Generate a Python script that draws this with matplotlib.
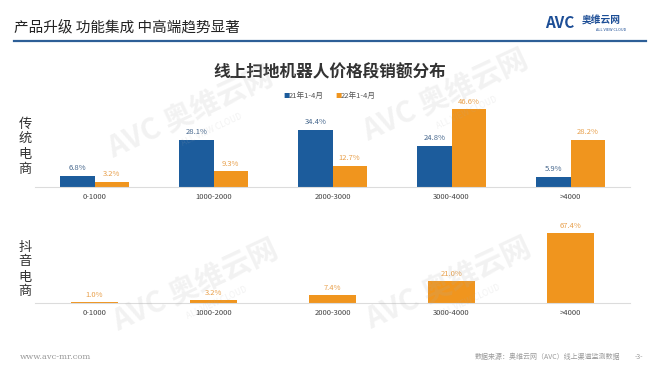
import numpy as np
import matplotlib
matplotlib.use("Agg")
import matplotlib.pyplot as plt

plt.rcParams['font.family'] = ['Noto Sans CJK SC', 'DejaVu Sans']

categories = ["0-1000", "1000-2000", "2000-3000", "3000-4000", ">4000"]
trad_21 = [6.8, 28.1, 34.4, 24.8, 5.9]
trad_22 = [3.2, 9.3, 12.7, 46.6, 28.2]
douyin_22 = [1.0, 3.2, 7.4, 21.0, 67.4]
series_names = ["21年1-4月", "22年1-4月"]

BLUE = "#1c5c9c"
ORANGE = "#f0951e"
BLUE_TXT = "#45668c"
ORANGE_TXT = "#e8a04c"
AXIS = "#dcdcdc"

W, H = 660, 372
fig = plt.figure(figsize=(6.6, 3.72), dpi=100)

def box(x0, y_top, x1, y_bottom):
    # pixel box -> figure coords
    return [x0 / W, 1 - y_bottom / H, (x1 - x0) / W, (y_bottom - y_top) / H]

# header
fig.text(14 / W, 1 - 28 / H, "产品升级 功能集成 中高端趋势显著", fontsize=10.5,
         color="#222222", va="center", ha="left")
fig.add_artist(plt.Line2D([14 / W, 646 / W], [1 - 41 / H, 1 - 41 / H],
                          color="#2d5f97", lw=1.6))
fig.text(545 / W, 1 - 23 / H, "AVC", fontsize=11, color="#1d4e96", fontweight="bold",
         style="italic", va="center", ha="left")
fig.text(582 / W, 1 - 21 / H, "奥维云网", fontsize=7, color="#1d4e96",
         fontweight="bold", va="center", ha="left")
fig.text(611 / W, 1 - 30 / H, "ALL VIEW CLOUD", fontsize=2.8, color="#1d4e96",
         va="center", ha="center")

# chart title and legend
fig.text(330 / W, 1 - 72 / H, "线上扫地机器人价格段销额分布", fontsize=12,
         fontweight="bold", color="#333333", ha="center", va="center")
fig.text(283 / W, 1 - 96 / H, "■", fontsize=4.5, color=BLUE, va="center")
fig.text(289 / W, 1 - 96 / H, series_names[0], fontsize=5.5, color="#555555", va="center")
fig.text(335 / W, 1 - 96 / H, "■", fontsize=4.5, color=ORANGE, va="center")
fig.text(341 / W, 1 - 96 / H, series_names[1], fontsize=5.5, color="#555555", va="center")

# watermarks (faint)
for (wx, wy) in [(190, 112), (445, 95), (195, 285), (448, 283)]:
    fig.text(wx / W, 1 - wy / H, "AVC 奥维云网", fontsize=21, fontweight="bold",
             color="#b0b0b0", alpha=0.16, rotation=25, ha="center", va="center",
             zorder=5)
    fig.text((wx + 22) / W, 1 - (wy + 18) / H, "ALL VIEW CLOUD", fontsize=6,
             color="#b0b0b0", alpha=0.16, rotation=25, ha="center", va="center",
             zorder=5)

x = np.arange(len(categories))

def style_axis(ax, ymax):
    ax.set_xlim(-0.5, 4.5)
    ax.set_ylim(0, ymax)
    ax.patch.set_alpha(0)
    for s in ["top", "right", "left"]:
        ax.spines[s].set_visible(False)
    ax.spines["bottom"].set_color(AXIS)
    ax.spines["bottom"].set_linewidth(0.8)
    ax.set_yticks([])
    ax.set_xticks(x)
    ax.set_xticklabels(categories, fontsize=5.5, color="#444444")
    ax.tick_params(axis="x", length=0, pad=4)

# top panel: traditional e-commerce
ax1 = fig.add_axes(box(35, 100, 630, 187))
bw = 0.286
ax1.bar(x - bw / 2, trad_21, bw, color=BLUE)
ax1.bar(x + bw / 2, trad_22, bw, color=ORANGE)
style_axis(ax1, 87 / 1.67)
for xi, v in zip(x, trad_21):
    ax1.text(xi - bw / 2, v + 2.2, f"{v:.1f}%", ha="center", va="bottom",
             fontsize=5.5, color=BLUE_TXT)
for xi, v in zip(x, trad_22):
    ax1.text(xi + bw / 2, v + 2.2, f"{v:.1f}%", ha="center", va="bottom",
             fontsize=5.5, color=ORANGE_TXT)

# bottom panel: Douyin e-commerce
ax2 = fig.add_axes(box(35, 225, 630, 303))
bw2 = 0.39
ax2.bar(x, douyin_22, bw2, color=ORANGE)
style_axis(ax2, 78 / 1.04)
for xi, v in zip(x, douyin_22):
    ax2.text(xi, v + 3.0, f"{v:.1f}%", ha="center", va="bottom",
             fontsize=5.5, color=ORANGE_TXT)

# side labels
for i, ch in enumerate("传统电商"):
    fig.text(25 / W, 1 - (124 + i * 15) / H, ch, fontsize=9.5, color="#333333",
             ha="center", va="center")
for i, ch in enumerate("抖音电商"):
    fig.text(25 / W, 1 - (247 + i * 15) / H, ch, fontsize=9.5, color="#333333",
             ha="center", va="center")

# footer
fig.text(20 / W, 1 - 357 / H, "www.avc-mr.com", fontsize=6, color="#999999",
         family="DejaVu Serif", va="center")
fig.text(620 / W, 1 - 357 / H, "数据来源：奥维云网（AVC）线上渠道监测数据", fontsize=5,
         color="#999999", va="center", ha="right")
fig.text(643 / W, 1 - 357 / H, "-3-", fontsize=5, color="#999999", va="center", ha="right")

fig.savefig("out.png", dpi=100)
